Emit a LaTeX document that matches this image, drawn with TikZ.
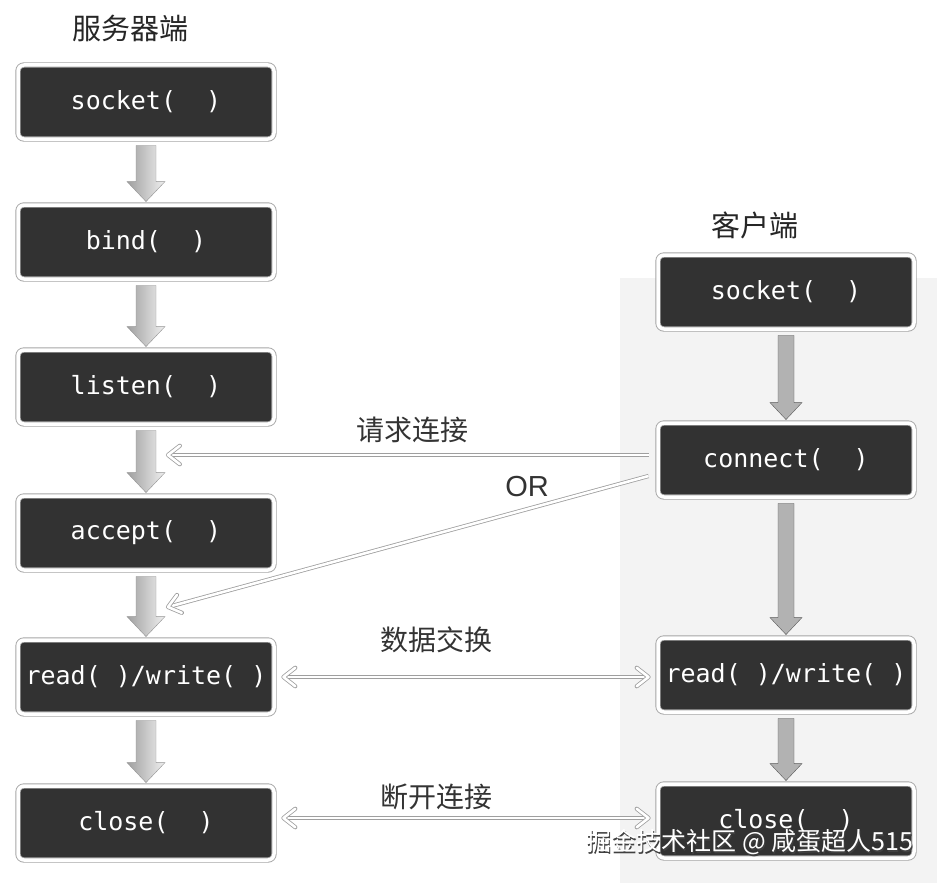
\documentclass[tikz,border=0pt]{standalone}
\usepackage{fontspec}
\usepackage{tikz}
\usetikzlibrary{calc}
\setmainfont{Liberation Sans}
\newfontfamily\cjk{Noto Sans CJK SC}
\newfontfamily\codefont{DejaVu Sans Mono}
\definecolor{boxdark}{RGB}{50,50,50}
\definecolor{panelgray}{RGB}{243,243,243}

% block arrow between two boxes: style, from, to, half shaft, half head, head length
\newcommand{\blockdown}[6]{%
  \draw[#1] let \p1=($(#2.south)+(0,6)$), \p2=($(#3.north)+(0,-3)$) in
    ({\x1-#4pt},{\y1}) -- ({\x1+#4pt},{\y1}) -- ({\x1+#4pt},{\y2+#6pt})
    -- ({\x1+#5pt},{\y2+#6pt}) -- ({\x1},{\y2}) -- ({\x1-#5pt},{\y2+#6pt})
    -- ({\x1-#4pt},{\y2+#6pt}) -- cycle;}
% open double-line head at #1, pointing away from #2
\newcommand{\chevron}[2]{%
  \draw[conn, line join=round, line cap=round]
    ($(#1)!15pt!38:(#2)$) -- (#1) -- ($(#1)!15pt!-38:(#2)$);}

\tikzset{
  fnbox/.style={draw=gray!70, double=white, double distance=3.5pt, line width=0.9pt,
    fill=boxdark, rounded corners=6pt, minimum width=256pt, minimum height=74pt,
    inner sep=0pt, text=white, font=\codefont\fontsize{25}{28}\selectfont},
  side/.style={font=\cjk\fontsize{29}{32}\selectfont, text=black!85},
  lbl/.style={font=\cjk\fontsize{28}{30}\selectfont, text=black!80},
  conn/.style={draw=gray!75, double=white, double distance=2.6pt, line width=0.8pt},
  srvarrow/.style={draw=gray!85, left color=gray!75, right color=gray!12},
  cliarrow/.style={draw=black!65, fill=gray!60},
}

\begin{document}
\begin{tikzpicture}[x=1pt, y=-1pt]
  \useasboundingbox (0,0) rectangle (937,883);
  % client background
  \fill[panelgray] (620,278) rectangle (937,883);

  % server side
  \node[side] (srvtitle) at (130,28) {服务器端};
  \node[fnbox] (ssocket) at (146,102) {socket(~~)};
  \node[fnbox] (sbind) at (146,242) {bind(~~)};
  \node[fnbox] (slisten) at (146,387) {listen(~~)};
  \node[fnbox] (saccept) at (146,533) {accept(~~)};
  \node[fnbox] (srw) at (146,677) {read(~)/write(~)};
  \node[fnbox] (sclose) at (146,823) {close(~~)};

  % client side
  \node[side] (clititle) at (755,225) {客户端};
  \node[fnbox] (csocket) at (786,292) {socket(~~)};
  \node[fnbox] (cconnect) at (786,460) {connect(~~)};
  \node[fnbox] (crw) at (786,675) {read(~)/write(~)};
  \node[fnbox] (cclose) at (786,821) {close(~~)};

  % flow arrows
  \blockdown{srvarrow}{ssocket}{sbind}{10}{19}{20}
  \blockdown{srvarrow}{sbind}{slisten}{10}{19}{20}
  \blockdown{srvarrow}{slisten}{saccept}{10}{19}{20}
  \blockdown{srvarrow}{saccept}{srw}{10}{19}{20}
  \blockdown{srvarrow}{srw}{sclose}{10}{19}{20}
  \blockdown{cliarrow}{csocket}{cconnect}{8}{16}{17}
  \blockdown{cliarrow}{cconnect}{crw}{8}{16}{17}
  \blockdown{cliarrow}{crw}{cclose}{8}{16}{17}

  % connection requests
  \coordinate (reqtail) at ($(cconnect.west)+(-9,-5)$);
  \coordinate (reqtip) at (168,455);
  \coordinate (ortail) at ($(cconnect.west)+(-9,16)$);
  \coordinate (ortip) at (168,607);
  \draw[conn, shorten >=2pt] (reqtail) -- (reqtip);
  \chevron{reqtip}{reqtail}
  \draw[conn, shorten >=2pt] (ortail) -- (ortip);
  \chevron{ortip}{ortail}
  \node[lbl] (reqlbl) at (412,430) {请求连接};
  \node[font=\fontsize{29}{30}\selectfont, text=black!80] (orlbl) at (527,487) {OR};

  % data exchange and close
  \coordinate (datal) at ($(srw.east)+(9,0)$);
  \coordinate (datar) at ($(crw.west)+(-9,2)$);
  \coordinate (closel) at ($(sclose.east)+(9,-5)$);
  \coordinate (closer) at ($(cclose.west)+(-9,-3)$);
  \draw[conn, shorten >=2pt, shorten <=2pt] (datal) -- (datar);
  \chevron{datal}{datar}
  \chevron{datar}{datal}
  \draw[conn, shorten >=2pt, shorten <=2pt] (closel) -- (closer);
  \chevron{closel}{closer}
  \chevron{closer}{closel}
  \node[lbl] (datalbl) at (436,640) {数据交换};
  \node[lbl] (closelbl) at (436,797) {断开连接};

  % watermark
  \node[font=\cjk\fontsize{25}{27}\selectfont, text=white] (mark) at (750,843)
    {\rlap{\textcolor{black!75}{\raisebox{-1.2pt}{\kern1.2pt 掘金技术社区 @ 咸蛋超人515}}}掘金技术社区 @ 咸蛋超人515};
\end{tikzpicture}
\end{document}
